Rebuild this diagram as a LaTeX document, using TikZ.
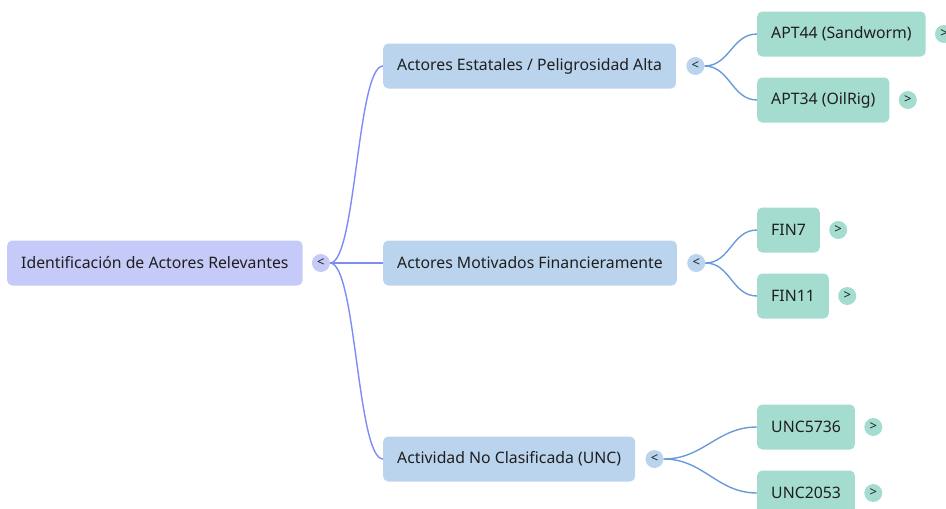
\documentclass[tikz,border=0pt]{standalone}
\usepackage{fontspec}
\setmainfont{Noto Sans}
\usetikzlibrary{positioning}
\definecolor{root-bg}{HTML}{C5CAF9}
\definecolor{group-bg}{HTML}{BBD4EE}
\definecolor{leaf-bg}{HTML}{A4DDD0}
\definecolor{root-line}{HTML}{7D8CF5}
\definecolor{group-line}{HTML}{6A9BD8}
\definecolor{ink}{HTML}{1F1F1F}

\begin{document}
\begin{tikzpicture}[x=1pt, y=-1pt,
    every node/.style={font=\fontsize{15.8}{18}\selectfont, text=ink},
    box/.style={rounded corners=5pt, minimum height=45pt, inner xsep=14pt, anchor=west},
    toggle/.style={circle, inner sep=0pt, minimum size=18pt, font=\fontsize{13}{14}\selectfont},
    link/.style={line width=1.4pt}]
  \useasboundingbox (0,0) rectangle (946,509);
  \clip (0,0) rectangle (946,509);

  % root
  \node[box, fill=root-bg] (root) at (7,263) {Identificación de Actores Relevantes};
  \node[toggle, fill=root-bg, right=9pt of root] (root-t) {<};

  % groups
  \node[box, fill=group-bg] (est) at (383,66) {Actores Estatales / Peligrosidad Alta};
  \node[box, fill=group-bg] (fin) at (383,263) {Actores Motivados Financieramente};
  \node[box, fill=group-bg] (unc) at (383,459) {Actividad No Clasificada (UNC)};
  \node[toggle, fill=group-bg, right=10pt of est] (est-t) {<};
  \node[toggle, fill=group-bg, right=10pt of fin] (fin-t) {<};
  \node[toggle, fill=group-bg, right=10pt of unc] (unc-t) {<};

  % actors
  \node[box, fill=leaf-bg] (apt44) at (757,34) {APT44 (Sandworm)};
  \node[box, fill=leaf-bg] (apt34) at (757,100) {APT34 (OilRig)};
  \node[box, fill=leaf-bg] (fin7) at (757,230) {FIN7};
  \node[box, fill=leaf-bg] (fin11) at (757,296) {FIN11};
  \node[box, fill=leaf-bg] (unc5736) at (757,427) {UNC5736};
  \node[box, fill=leaf-bg] (unc2053) at (757,493) {UNC2053};
  \foreach \n in {apt44, apt34, fin7, fin11, unc5736, unc2053}
    \node[toggle, fill=leaf-bg, right=9pt of \n] (\n-t) {>};

  % links
  \foreach \g in {est, fin, unc}
    \draw[link, root-line] (root-t.east) .. controls ([xshift=26pt]root-t.east) and ([xshift=-26pt]\g.west) .. (\g.west);
  \draw[link, group-line] (est-t.east) .. controls ([xshift=25pt]est-t.east) and ([xshift=-25pt]apt44.west) .. (apt44.west);
  \draw[link, group-line] (est-t.east) .. controls ([xshift=25pt]est-t.east) and ([xshift=-25pt]apt34.west) .. (apt34.west);
  \draw[link, group-line] (fin-t.east) .. controls ([xshift=25pt]fin-t.east) and ([xshift=-25pt]fin7.west) .. (fin7.west);
  \draw[link, group-line] (fin-t.east) .. controls ([xshift=25pt]fin-t.east) and ([xshift=-25pt]fin11.west) .. (fin11.west);
  \draw[link, group-line] (unc-t.east) .. controls ([xshift=40pt]unc-t.east) and ([xshift=-40pt]unc5736.west) .. (unc5736.west);
  \draw[link, group-line] (unc-t.east) .. controls ([xshift=40pt]unc-t.east) and ([xshift=-40pt]unc2053.west) .. (unc2053.west);
\end{tikzpicture}
\end{document}
